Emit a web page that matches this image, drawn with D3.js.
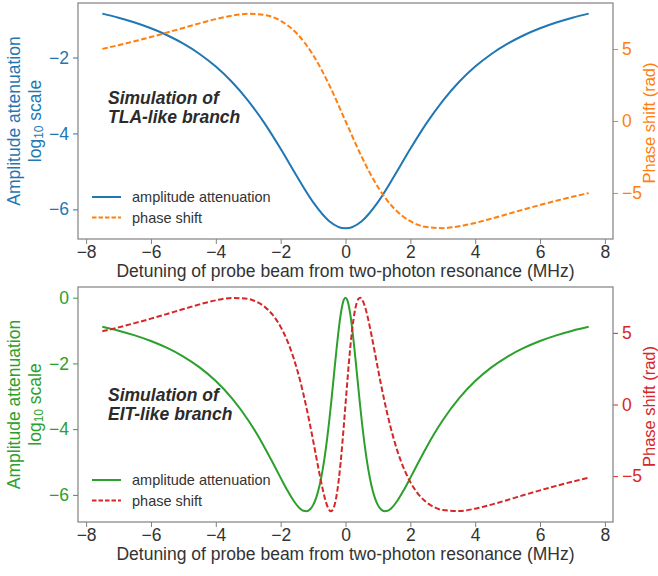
<!DOCTYPE html>
<html>
<head>
<meta charset="utf-8">
<script src="https://cdn.jsdelivr.net/npm/d3@7"></script>
<style>
  body { margin: 0; background: #fff; }
  svg { font-family: "Liberation Sans", Arial, sans-serif; }
</style>
</head>
<body>
<div id="chart"></div>
<script>
// values
const X_TICKS = [-8, -6, -4, -2, 0, 2, 4, 6, 8];
const TLA_AMP_TICKS = [-6, -4, -2];
const EIT_AMP_TICKS = [-6, -4, -2, 0];
const PHASE_TICKS = [-5, 0, 5];

const TLA_DETUNING = [-7.5, -7, -6.5, -6, -5.5, -5, -4.5, -4, -3.5, -3, -2.5, -2, -1.5, -1, -0.5, 0,
  0.5, 1, 1.5, 2, 2.5, 3, 3.5, 4, 4.5, 5, 5.5, 6, 6.5, 7, 7.5];
const TLA_AMPLITUDE = [-0.845, -0.952, -1.079, -1.231, -1.414, -1.636, -1.907, -2.240, -2.646, -3.140,
  -3.729, -4.405, -5.128, -5.809, -6.312, -6.500, -6.312, -5.809, -5.128, -4.405, -3.729, -3.140,
  -2.646, -2.240, -1.907, -1.636, -1.414, -1.231, -1.079, -0.952, -0.845];
const TLA_PHASE = [5.012, 5.269, 5.544, 5.838, 6.147, 6.467, 6.785, 7.081, 7.320, 7.446, 7.369, 6.964,
  6.080, 4.592, 2.495, 0, -2.495, -4.592, -6.080, -6.964, -7.369, -7.446, -7.320, -7.081, -6.785,
  -6.467, -6.147, -5.838, -5.544, -5.269, -5.012];

const EIT_DETUNING = [-7.5, -7, -6.5, -6, -5.5, -5, -4.5, -4, -3.5, -3, -2.75, -2.5, -2.25, -2, -1.8,
  -1.6, -1.4, -1.3, -1.2, -1.1, -1, -0.9, -0.8, -0.7, -0.6, -0.5, -0.45, -0.4, -0.35, -0.3, -0.25,
  -0.2, -0.15, -0.1, -0.05, 0, 0.05, 0.1, 0.15, 0.2, 0.25, 0.3, 0.35, 0.4, 0.45, 0.5, 0.6, 0.7, 0.8,
  0.9, 1, 1.1, 1.2, 1.3, 1.4, 1.6, 1.8, 2, 2.25, 2.5, 2.75, 3, 3.5, 4, 4.5, 5, 5.5, 6, 6.5, 7, 7.5];
const EIT_AMPLITUDE = [-0.886, -1.004, -1.146, -1.318, -1.530, -1.792, -2.121, -2.537, -3.064, -3.729,
  -4.119, -4.548, -5.007, -5.482, -5.850, -6.178, -6.418, -6.484, -6.498, -6.447, -6.312, -6.075,
  -5.715, -5.210, -4.548, -3.729, -3.269, -2.784, -2.287, -1.792, -1.318, -0.886, -0.519, -0.237,
  -0.060, 0, -0.060, -0.237, -0.519, -0.886, -1.318, -1.792, -2.287, -2.784, -3.269, -3.729, -4.548,
  -5.210, -5.715, -6.075, -6.312, -6.447, -6.498, -6.484, -6.418, -6.178, -5.850, -5.482, -5.007,
  -4.548, -4.119, -3.729, -3.064, -2.537, -2.121, -1.792, -1.530, -1.318, -1.146, -1.004, -0.886];
const EIT_PHASE = [5.112, 5.384, 5.678, 5.991, 6.321, 6.659, 6.986, 7.268, 7.438, 7.369, 7.178, 6.830,
  6.267, 5.416, 4.470, 3.235, 1.667, 0.749, -0.257, -1.343, -2.495, -3.682, -4.856, -5.942, -6.830,
  -7.369, -7.450, -7.373, -7.116, -6.659, -5.991, -5.112, -4.037, -2.794, -1.429, 0, 1.429, 2.794,
  4.037, 5.112, 5.991, 6.659, 7.116, 7.373, 7.450, 7.369, 6.830, 5.942, 4.856, 3.682, 2.495, 1.343,
  0.257, -0.749, -1.667, -3.235, -4.470, -5.416, -6.267, -6.830, -7.178, -7.369, -7.438, -7.268,
  -6.986, -6.659, -6.321, -5.991, -5.678, -5.384, -5.112];

const WIDTH = 658;
const HEIGHT = 576;
const FRAME = { left: 78, right: 613 };
const TEXT = "#333";
const SPINE = "#808080";
const FONT = 17.5;

const SVG = d3.select("#chart").append("svg")
  .attr("width", WIDTH)
  .attr("height", HEIGHT);
SVG.append("rect").attr("width", WIDTH).attr("height", HEIGHT).attr("fill", "#fff");

const xScale = d3.scaleLinear().domain([-8.25, 8.25]).range([FRAME.left, FRAME.right]);

const panels = [
  {
    top: 3, bottom: 239,
    ampDomain: [-6.78, -0.565], ampTicks: TLA_AMP_TICKS,
    x: TLA_DETUNING, amp: TLA_AMPLITUDE, phase: TLA_PHASE,
    ampColor: "#1f77b4", phaseColor: "#ff7f0e",
    note: ["Simulation of", "TLA-like branch"], noteY: 98, legendY: 197
  },
  {
    top: 287, bottom: 522,
    ampDomain: [-6.825, 0.325], ampTicks: EIT_AMP_TICKS,
    x: EIT_DETUNING, amp: EIT_AMPLITUDE, phase: EIT_PHASE,
    ampColor: "#2ca02c", phaseColor: "#d62728",
    note: ["Simulation of", "EIT-like branch"], noteY: 395, legendY: 480
  }
];

panels.forEach(drawPanel);

function styleAxis(g, color) {
  g.select(".domain").remove();
  g.selectAll(".tick line").attr("stroke", color === TEXT ? SPINE : color);
  g.selectAll(".tick text")
    .attr("fill", color)
    .attr("font-size", FONT)
    .attr("font-family", "Liberation Sans, Arial, sans-serif");
}

function drawPanel(p) {
  const g = SVG.append("g");
  const yAmp = d3.scaleLinear().domain(p.ampDomain).range([p.bottom, p.top]);
  const yPhase = d3.scaleLinear().domain([-8.2, 8.2]).range([p.bottom, p.top]);
  const midY = (p.top + p.bottom) / 2;
  const fmt = d3.format("d");

  // axes
  g.append("g")
    .attr("transform", `translate(0, ${p.bottom})`)
    .call(d3.axisBottom(xScale).tickValues(X_TICKS).tickFormat(fmt).tickSize(5).tickPadding(2))
    .call(a => styleAxis(a, TEXT));

  g.append("g")
    .attr("transform", `translate(${FRAME.left}, 0)`)
    .call(d3.axisLeft(yAmp).tickValues(p.ampTicks).tickFormat(fmt).tickSize(5).tickPadding(4))
    .call(a => styleAxis(a, p.ampColor));

  g.append("g")
    .attr("transform", `translate(${FRAME.right}, 0)`)
    .call(d3.axisRight(yPhase).tickValues(PHASE_TICKS).tickFormat(fmt).tickSize(5).tickPadding(4))
    .call(a => styleAxis(a, p.phaseColor));

  // curves
  const ampLine = d3.line()
    .x((d, i) => xScale(p.x[i]))
    .y(d => yAmp(d))
    .curve(d3.curveMonotoneX);
  const phaseLine = d3.line()
    .x((d, i) => xScale(p.x[i]))
    .y(d => yPhase(d))
    .curve(d3.curveMonotoneX);

  g.append("path")
    .datum(p.amp)
    .attr("d", ampLine)
    .attr("fill", "none")
    .attr("stroke", p.ampColor)
    .attr("stroke-width", 2);

  g.append("path")
    .datum(p.phase)
    .attr("d", phaseLine)
    .attr("fill", "none")
    .attr("stroke", p.phaseColor)
    .attr("stroke-width", 2)
    .attr("stroke-dasharray", "5.5,2.5");

  // frame
  g.append("rect")
    .attr("x", FRAME.left)
    .attr("y", p.top)
    .attr("width", FRAME.right - FRAME.left)
    .attr("height", p.bottom - p.top)
    .attr("fill", "none")
    .attr("stroke", SPINE)
    .attr("stroke-width", 1.2);

  // axis titles
  g.append("text")
    .attr("x", (FRAME.left + FRAME.right) / 2)
    .attr("y", p.bottom + 38)
    .attr("text-anchor", "middle")
    .attr("font-size", FONT)
    .attr("fill", TEXT)
    .text("Detuning of probe beam from two-photon resonance (MHz)");

  const leftTitle = g.append("text")
    .attr("transform", `translate(13.5, ${midY}) rotate(-90)`)
    .attr("text-anchor", "middle")
    .attr("dominant-baseline", "central")
    .attr("font-size", FONT)
    .attr("fill", p.ampColor);
  leftTitle.append("tspan").attr("x", 0).attr("dy", 0).text("Amplitude attenuation");
  const second = leftTitle.append("tspan").attr("x", 0).attr("dy", 21.5);
  second.append("tspan").text("log");
  second.append("tspan").attr("font-size", 12).attr("dy", 4).text("10");
  second.append("tspan").attr("dy", -4).text(" scale");

  // right title: a bit smaller and kept above the -5 tick label, as in the picture
  g.append("text")
    .attr("transform", `translate(649, ${midY + 2}) rotate(-90)`)
    .attr("text-anchor", "middle")
    .attr("dominant-baseline", "central")
    .attr("font-size", 16.5)
    .attr("fill", p.phaseColor)
    .text("Phase shift (rad)");

  // annotation
  g.append("text")
    .attr("x", 108)
    .attr("y", p.noteY)
    .attr("font-size", FONT)
    .attr("font-weight", "bold")
    .attr("font-style", "italic")
    .attr("fill", "#2b2b2b")
    .selectAll("tspan")
    .data(p.note)
    .join("tspan")
    .attr("x", 108)
    .attr("dy", (d, i) => i === 0 ? 0 : 19)
    .attr("dominant-baseline", "central")
    .text(d => d);

  // legend
  const legend = [
    { label: "amplitude attenuation", color: p.ampColor, dash: null },
    { label: "phase shift", color: p.phaseColor, dash: "4.5,2" }
  ];
  const items = g.selectAll(".legend")
    .data(legend)
    .join("g")
    .attr("class", "legend")
    .attr("transform", (d, i) => `translate(0, ${p.legendY + i * 20.5})`);
  items.append("line")
    .attr("x1", 92).attr("x2", 121)
    .attr("stroke", d => d.color)
    .attr("stroke-width", 2)
    .attr("stroke-dasharray", d => d.dash);
  items.append("text")
    .attr("x", 132)
    .attr("dominant-baseline", "central")
    .attr("font-size", 14.5)
    .attr("fill", TEXT)
    .text(d => d.label);
}
</script>
</body>
</html>
